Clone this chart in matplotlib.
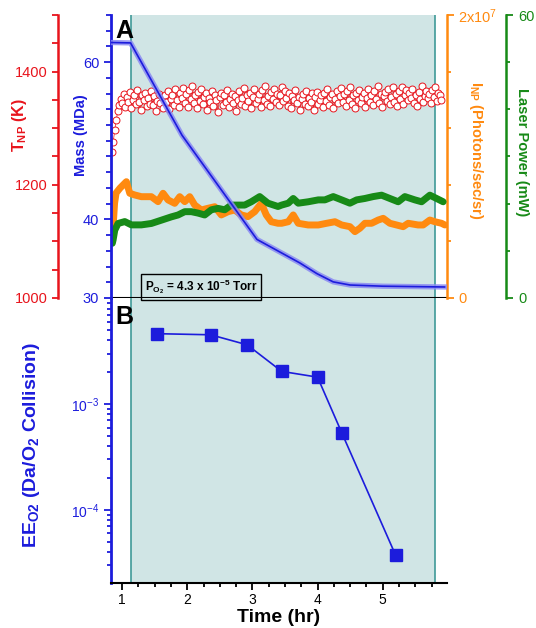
import numpy as np
import matplotlib.pyplot as plt
from matplotlib.ticker import MultipleLocator, FixedLocator, LogLocator, NullFormatter

plt.rcParams['font.family'] = ['Liberation Sans', 'DejaVu Sans']
plt.rcParams['mathtext.fontset'] = 'custom'
plt.rcParams['mathtext.rm'] = 'Liberation Sans'
plt.rcParams['mathtext.bf'] = 'Liberation Sans:bold'
plt.rcParams['mathtext.it'] = 'Liberation Sans:italic'

RED = '#e8141c'
BLUE = '#1c1cdc'
ORANGE = '#ff8a10'
GREEN = '#178a17'
SHADE = '#d0e5e5'
EDGE = '#3f9a98'

# panel A data
# nanoparticle temperature (K), sampled evenly from 0.84 to 5.90 hr
T_np = [1258, 1275, 1296, 1314, 1330, 1341,
        1352, 1344, 1361, 1338, 1356, 1347, 1364, 1335, 1350, 1359, 1342, 1367,
        1346, 1333, 1358, 1349, 1362, 1339, 1354, 1343, 1366, 1341, 1357, 1330,
        1348, 1360, 1344, 1355, 1336, 1359, 1347, 1365, 1334, 1352, 1358, 1341,
        1369, 1350, 1337, 1363, 1354, 1371, 1345, 1361, 1338, 1367, 1351, 1374,
        1344, 1359, 1335, 1364, 1348, 1370, 1342, 1356, 1362, 1333, 1353, 1347,
        1366, 1339, 1358, 1350, 1329, 1355, 1363, 1341, 1359, 1346, 1368, 1337,
        1352, 1361, 1344, 1357, 1331, 1350, 1365, 1342, 1354, 1371, 1340, 1358,
        1348, 1363, 1336, 1356, 1369, 1345, 1351, 1360, 1338, 1367, 1349, 1374,
        1343, 1357, 1339, 1364, 1352, 1370, 1346, 1361, 1341, 1359, 1373, 1348,
        1365, 1354, 1340, 1362, 1336, 1357, 1349, 1368, 1344, 1355, 1333, 1351,
        1360, 1343, 1366, 1339, 1353, 1347, 1362, 1332, 1356, 1364, 1342, 1350,
        1358, 1337, 1363, 1348, 1369, 1341, 1355, 1361, 1335, 1352, 1366, 1344,
        1357, 1371, 1346, 1360, 1339, 1365, 1350, 1372, 1343, 1358, 1336, 1363,
        1349, 1368, 1345, 1356, 1362, 1338, 1353, 1370, 1347, 1359, 1341, 1366,
        1351, 1374, 1344, 1361, 1337, 1357, 1364, 1348, 1369, 1342, 1355, 1372,
        1346, 1360, 1339, 1365, 1352, 1373, 1343, 1358, 1367, 1349, 1362, 1354,
        1370, 1345, 1359, 1340, 1364, 1351, 1375, 1347, 1357, 1366, 1353, 1361,
        1344, 1368, 1356, 1372, 1348, 1363, 1358, 1350]
T_time = np.linspace(0.84, 5.90, len(T_np))

# mass (MDa)
mass_time = [0.84, 1.13, 1.92, 3.07, 3.73, 3.99, 4.24, 4.50, 5.00, 5.95]
mass = [62.5, 62.45, 50.7, 37.45, 34.45, 33.1, 32.05, 31.65, 31.5, 31.4]

# emission intensity (1e6 photons/sec/sr)
I_time = [0.85, 0.862, 0.885, 0.908, 0.969, 1.066, 1.118, 1.195, 1.296, 1.449,
          1.552, 1.629, 1.706, 1.808, 1.885, 1.962, 2.038, 2.115, 2.216, 2.319,
          2.422, 2.523, 2.626, 2.729, 2.830, 2.933, 3.035, 3.137, 3.213, 3.290,
          3.393, 3.449, 3.551, 3.627, 3.704, 3.857, 4.011, 4.140, 4.267, 4.370,
          4.497, 4.574, 4.650, 4.727, 4.830, 4.931, 5.008, 5.110, 5.213, 5.314,
          5.391, 5.544, 5.621, 5.724, 5.801, 5.903, 5.954]
I_np = [4.4, 5.04, 6.71, 7.42, 7.77, 8.22, 7.40, 7.28, 7.16, 7.16,
        6.81, 7.40, 6.93, 6.69, 7.16, 6.81, 7.16, 6.57, 6.22, 6.34,
        6.45, 5.87, 6.10, 6.22, 5.87, 5.75, 6.10, 6.69, 5.87, 5.39,
        5.28, 5.28, 5.39, 5.87, 5.28, 5.16, 5.16, 5.28, 5.39, 5.16,
        5.04, 4.69, 4.93, 5.28, 5.28, 5.51, 5.63, 5.28, 5.16, 5.04,
        5.28, 5.16, 5.16, 5.51, 5.39, 5.28, 5.16]

# laser power (mW)
P_time = [0.85, 0.862, 0.888, 0.939, 1.041, 1.143, 1.296, 1.449, 1.603, 1.756,
          1.859, 1.962, 2.063, 2.166, 2.268, 2.370, 2.472, 2.575, 2.676, 2.779,
          2.882, 2.983, 3.112, 3.239, 3.393, 3.449, 3.551, 3.627, 3.704, 3.857,
          4.011, 4.113, 4.241, 4.370, 4.497, 4.600, 4.727, 4.854, 4.983, 5.110,
          5.238, 5.340, 5.494, 5.597, 5.724, 5.827, 5.928]
laser = [11.6, 12.3, 14.4, 15.8, 16.2, 15.5, 15.5, 15.8, 16.5, 17.2,
         17.6, 18.3, 18.3, 18.0, 17.6, 18.7, 19.0, 18.7, 19.7, 19.7,
         19.7, 20.4, 21.5, 20.1, 19.4, 19.7, 20.1, 21.1, 20.1, 20.4,
         20.8, 20.8, 21.5, 20.8, 20.1, 20.8, 21.1, 21.5, 21.8, 21.1,
         20.4, 21.5, 20.8, 20.4, 21.8, 21.1, 20.4]

# panel B data
ee_time = [1.535, 2.36, 2.92, 3.45, 4.00, 4.375, 5.20]
ee_o2 = [4.64e-3, 4.53e-3, 3.64e-3, 2.04e-3, 1.80e-3, 5.3e-4, 3.7e-5]

o2_start, o2_end = 1.13, 5.81

fig = plt.figure(figsize=(5.36, 6.28), dpi=100)
ax_t = fig.add_axes([0.2071, 0.5255, 0.626, 0.4506])
ax_b = fig.add_axes([0.2071, 0.0717, 0.626, 0.4538])

for ax in (ax_t, ax_b):
    ax.set_xlim(0.83, 5.98)
    ax.axvspan(o2_start, o2_end, color=SHADE, zorder=0, lw=0)
    ax.axvline(o2_start, color=EDGE, lw=1.2, zorder=0.5)
    ax.axvline(o2_end, color=EDGE, lw=1.2, zorder=0.5)

# ---- top panel: red temperature host axis
ax_t.set_ylim(1000, 1500)
ax_t.spines['top'].set_visible(False)
ax_t.spines['right'].set_visible(False)
ax_t.spines['bottom'].set_color('black')
ax_t.spines['bottom'].set_linewidth(1.5)
ax_t.spines['left'].set_position(('outward', 38))
ax_t.spines['left'].set_color(RED)
ax_t.spines['left'].set_linewidth(1.8)
ax_t.tick_params(axis='x', bottom=False, labelbottom=False)
ax_t.yaxis.set_major_locator(FixedLocator([1000, 1200, 1400]))
ax_t.yaxis.set_minor_locator(MultipleLocator(50))
ax_t.tick_params(axis='y', which='both', colors=RED, labelcolor=RED, labelsize=10.5,
                 width=1.3, length=4)
ax_t.plot(T_time, T_np, '-', color=RED, lw=0.5, marker='o', ms=5,
          mfc='white', mec=RED, mew=0.7, zorder=3)
ax_t.set_ylabel(r'T$_{\mathbf{NP}}$ (K)', color=RED, fontsize=11.5, fontweight='bold')
ax_t.yaxis.set_label_coords(-0.245, 0.61)

# orange intensity axis
ax_i = ax_t.twinx()
for s in ('left', 'top', 'bottom'):
    ax_i.spines[s].set_visible(False)
ax_i.spines['right'].set_color(ORANGE)
ax_i.spines['right'].set_linewidth(1.8)
ax_i.set_ylim(0, 2e7)
ax_i.yaxis.set_major_locator(FixedLocator([0, 2e7]))
ax_i.yaxis.set_minor_locator(MultipleLocator(0.4e7))
ax_i.set_yticklabels(['0', r'2x10$^{7}$'])
ax_i.tick_params(axis='y', which='both', colors=ORANGE, labelcolor=ORANGE,
                 labelsize=10.5, width=1.3)
ax_i.tick_params(axis='y', which='major', length=5)
ax_i.tick_params(axis='y', which='minor', length=3)
ax_i.plot(I_time, np.array(I_np) * 1e6, color=ORANGE, lw=5, solid_capstyle='round',
          solid_joinstyle='round', zorder=3)
ax_i.set_ylabel(r'I$_{\mathbf{NP}}$ (Photons/sec/sr)', color=ORANGE, fontsize=10.5,
                fontweight='bold', rotation=270, va='center', ha='center')
ax_i.yaxis.set_label_coords(1.088, 0.52)

# green laser power axis
ax_p = ax_t.twinx()
for s in ('left', 'top', 'bottom'):
    ax_p.spines[s].set_visible(False)
ax_p.spines['right'].set_position(('outward', 43))
ax_p.spines['right'].set_color(GREEN)
ax_p.spines['right'].set_linewidth(1.8)
ax_p.set_ylim(0, 60)
ax_p.yaxis.set_major_locator(FixedLocator([0, 60]))
ax_p.yaxis.set_minor_locator(MultipleLocator(10))
ax_p.tick_params(axis='y', which='both', colors=GREEN, labelcolor=GREEN,
                 labelsize=10.5, width=1.3)
ax_p.tick_params(axis='y', which='major', length=5)
ax_p.tick_params(axis='y', which='minor', length=3)
ax_p.plot(P_time, laser, color=GREEN, lw=5, solid_capstyle='round',
          solid_joinstyle='round', zorder=3)
ax_p.set_ylabel('Laser Power (mW)', color=GREEN, fontsize=10.5, fontweight='bold',
                rotation=270, va='center', ha='center')
ax_p.yaxis.set_label_coords(1.225, 0.515)

# blue mass axis on top
ax_m = ax_t.twinx()
for s in ('right', 'top', 'bottom'):
    ax_m.spines[s].set_visible(False)
ax_m.spines['left'].set_visible(True)
ax_m.spines['left'].set_color(BLUE)
ax_m.spines['left'].set_linewidth(2)
ax_m.yaxis.tick_left()
ax_m.yaxis.set_label_position('left')
ax_m.set_ylim(30, 66)
ax_m.yaxis.set_major_locator(FixedLocator([30, 40, 60]))
ax_m.yaxis.set_minor_locator(MultipleLocator(2))
ax_m.tick_params(axis='y', which='both', colors=BLUE, labelcolor=BLUE,
                 labelsize=10.5, width=1.3)
ax_m.tick_params(axis='y', which='major', length=5)
ax_m.tick_params(axis='y', which='minor', length=3.5)
ax_m.plot(mass_time, mass, color='#8a8af2', lw=3.8, alpha=0.85, zorder=3)
ax_m.plot(mass_time, mass, color=BLUE, lw=1.2, zorder=4)
ax_m.set_ylabel('Mass (MDa)', color=BLUE, fontsize=10.5, fontweight='bold')
ax_m.yaxis.set_label_coords(-0.07, 0.575)

ax_m.text(0.012, 0.985, 'A', transform=ax_m.transAxes, fontsize=18,
          fontweight='bold', va='top', ha='left')
ax_m.text(0.268, 0.04, r'P$_{\mathbf{O_2}}$ = 4.3 x 10$^{\mathbf{-5}}$ Torr',
          transform=ax_m.transAxes, fontsize=8.5, fontweight='bold',
          ha='center', va='center',
          bbox=dict(boxstyle='square,pad=0.3', fc='none', ec='black', lw=1))

# ---- bottom panel
ax_b.set_yscale('log')
ax_b.set_ylim(2.03e-5, 1.01e-2)
ax_b.spines['top'].set_visible(False)
ax_b.spines['right'].set_visible(False)
ax_b.spines['left'].set_color(BLUE)
ax_b.spines['left'].set_linewidth(2)
ax_b.spines['bottom'].set_color('black')
ax_b.spines['bottom'].set_linewidth(1.5)
ax_b.yaxis.set_major_locator(FixedLocator([1e-4, 1e-3]))
ax_b.yaxis.set_minor_locator(LogLocator(base=10, subs=np.arange(2, 10)))
ax_b.yaxis.set_minor_formatter(NullFormatter())
ax_b.tick_params(axis='y', which='both', colors=BLUE, labelcolor=BLUE,
                 labelsize=10, width=1.3)
ax_b.tick_params(axis='y', which='major', length=5)
ax_b.tick_params(axis='y', which='minor', length=3)
ax_b.xaxis.set_major_locator(MultipleLocator(1))
ax_b.xaxis.set_minor_locator(MultipleLocator(0.25))
ax_b.tick_params(axis='x', which='both', colors='black', labelsize=10, width=1.3)
ax_b.tick_params(axis='x', which='major', length=5, pad=2.5)
ax_b.tick_params(axis='x', which='minor', length=3)
ax_b.plot(ee_time, ee_o2, '-', color=BLUE, lw=1.2, marker='s', ms=8, zorder=3)
ax_b.set_ylabel(r'EE$_{\mathbf{O2}}$ (Da/O$_{\mathbf{2}}$ Collision)', color=BLUE,
                fontsize=14, fontweight='bold')
ax_b.yaxis.set_label_coords(-0.205, 0.484)
ax_b.set_xlabel('Time (hr)', fontsize=14, fontweight='bold', va='center')
ax_b.xaxis.set_label_coords(0.498, -0.12)
ax_b.text(0.012, 0.975, 'B', transform=ax_b.transAxes, fontsize=18,
          fontweight='bold', va='top', ha='left')

fig.savefig('out.png', dpi=100)
